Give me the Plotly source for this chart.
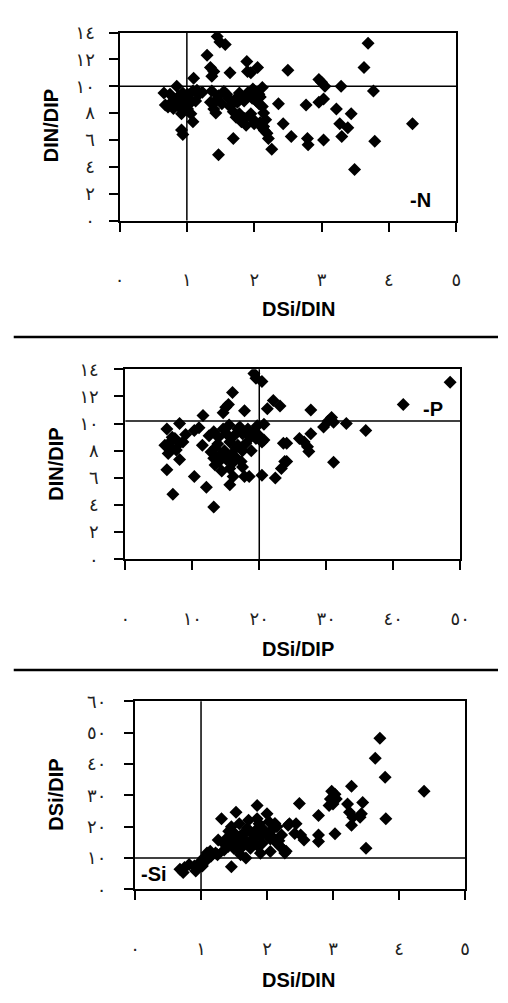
import plotly.graph_objects as go

# ---------------- data ----------------
# Panel 1 (-N): DSi/DIN vs DIN/DIP
n_x = [1.45, 1.49, 1.57, 1.30, 1.35, 1.40, 1.37, 1.64, 1.89, 1.90, 1.95, 2.05, 2.50, 1.10, 0.85, 0.66, 0.68, 0.75, 0.82, 0.94,
       1.01, 1.09, 1.18, 0.89, 0.94, 0.92, 1.09, 0.92, 0.94, 1.04, 1.01, 0.85, 0.99, 0.75, 1.06, 1.13, 1.23,
       1.37, 1.42, 1.40, 1.47, 1.52, 1.59, 1.64, 1.71, 1.78, 1.85, 1.90, 2.00, 2.07, 2.12,
       1.69, 1.73, 1.81, 1.88, 1.95, 2.00,
       2.09, 2.12, 2.14, 2.17, 2.14, 2.19, 2.21, 2.09, 2.07,
       2.36, 2.43, 2.55, 1.69, 2.26, 1.47,
       3.69, 3.63, 2.96, 3.00, 3.05, 3.29, 3.77, 2.77, 2.96, 3.03, 3.22, 3.44, 3.27, 3.39, 3.30, 4.35, 2.79, 2.80, 3.03, 3.79, 3.49,
       0.72, 0.80, 0.97, 1.05, 0.88, 1.15, 1.45, 1.55, 1.62, 1.75, 1.82, 1.97, 2.03, 1.35, 1.43, 1.78, 1.86, 2.00, 2.12, 2.15, 1.98]
n_y = [13.7, 13.3, 13.1, 12.3, 11.4, 11.1, 10.75, 11.0, 11.85, 11.1, 11.0, 11.4, 11.2, 10.6, 10.0, 9.5, 8.6, 8.7, 8.8, 9.5,
       9.4, 9.65, 9.4, 8.7, 8.2, 7.95, 7.35, 6.75, 6.4, 8.7, 8.3, 9.05, 9.05, 9.4, 7.95, 8.9, 9.55,
       9.65, 8.9, 8.3, 9.3, 8.7, 9.4, 8.5, 9.0, 9.5, 8.9, 9.5, 9.65, 9.4, 9.9,
       8.1, 7.7, 7.35, 7.1, 7.95, 7.45,
       9.2, 8.5, 8.0, 7.5, 7.0, 6.5, 6.1, 7.3, 8.7,
       8.7, 7.2, 6.25, 6.1, 5.3, 4.9,
       13.2, 11.4, 10.5, 10.3, 10.0, 10.0, 9.65, 8.6, 8.8, 9.05, 8.3, 7.95, 7.2, 6.9, 6.25, 7.2, 6.1, 5.65, 6.0, 5.9, 3.8,
       8.45, 8.35, 8.9, 9.0, 9.25, 9.7, 9.0, 9.6, 9.1, 8.8, 9.2, 9.1, 8.9, 8.8, 8.0, 7.95, 7.6, 7.2, 6.9, 6.7, 9.8]

# Panel 2 (-P): DSi/DIP vs DIN/DIP
p_x = [19.2, 19.5, 20.4, 16.0, 22.1, 23.1, 21.2, 15.0, 14.6, 15.4, 17.8, 11.6, 6.2, 8.1, 10.3, 11.0,
       5.9, 6.7, 7.4, 8.1, 8.6, 7.6, 6.9, 6.4, 8.1, 6.2, 10.3, 12.1, 7.1, 13.2, 11.5,
       13.2, 13.9, 14.6, 15.1, 15.6, 16.3, 17.1, 17.5, 18.3, 18.7, 19.2, 19.7, 20.7, 20.4, 19.5, 18.0, 16.8,
       13.4, 14.2, 13.2, 13.4, 14.4, 15.1, 15.8, 16.6, 17.3, 15.6, 15.6, 16.1, 17.8, 18.5, 20.4, 22.4,
       23.6, 23.8, 23.3, 20.7,
       48.5, 41.5, 27.7, 30.8, 30.3, 31.1, 29.6, 33.0, 35.9, 26.0, 26.7, 27.7, 27.2, 27.4, 31.1, 24.1, 24.1,
       12.5, 13.8, 14.8, 16.5, 17.5, 15.5, 16.8, 18.8, 14.0, 16.0, 17.5, 12.8, 19.8, 7.0, 9.0]
p_y = [13.7, 13.35, 13.1, 12.3, 11.7, 11.3, 11.1, 11.2, 10.8, 11.4, 10.95, 10.6, 9.6, 10.0, 9.5, 9.7,
       8.4, 8.65, 8.9, 8.55, 8.65, 8.05, 8.2, 7.8, 7.35, 6.6, 6.1, 5.3, 4.8, 3.85, 8.4,
       9.4, 9.0, 9.6, 9.25, 8.65, 9.15, 9.75, 9.25, 9.6, 9.0, 9.5, 9.85, 9.95, 8.65, 8.9, 8.55, 8.4,
       8.2, 7.7, 7.45, 6.95, 6.5, 7.35, 7.7, 7.45, 7.2, 6.7, 5.5, 6.1, 6.1, 6.1, 6.2, 6.0,
       8.55, 7.2, 6.7, 8.8,
       13.05, 11.4, 11.0, 10.45, 10.2, 10.1, 9.75, 10.0, 9.5, 8.9, 8.65, 9.25, 8.3, 7.95, 7.15, 8.55, 7.2,
       9.1, 8.5, 8.0, 8.2, 8.0, 9.9, 9.6, 8.0, 7.2, 7.1, 6.8, 7.9, 9.2, 9.0, 9.2]

# Panel 3 (-Si): DSi/DIN vs DSi/DIP
s_x = [0.68, 0.75, 0.82, 0.90, 0.92, 1.00, 1.04, 1.09, 1.14, 1.22, 1.02, 0.73, 1.07,
       1.46, 1.68, 1.31, 1.53, 1.85, 2.49,
       1.26, 1.34, 1.41, 1.39, 1.49, 1.56, 1.51, 1.46, 1.58, 1.61, 1.68, 1.71, 1.63, 1.75, 1.80, 1.83,
       1.85, 1.88, 1.90, 1.93, 2.00, 2.03, 2.07, 2.10, 2.15, 2.20, 2.25, 2.27, 2.15, 2.22, 2.34,
       1.15, 1.25, 1.60, 1.90, 2.05,
       3.71, 3.64, 3.79, 4.38, 3.28, 2.98, 3.03, 2.96, 3.00, 2.94, 3.05, 3.22, 3.45, 3.25, 3.30, 3.41, 3.43,
       3.28, 2.78, 3.80, 3.03, 2.78, 2.78, 2.51, 2.56, 3.50, 2.44, 2.32, 2.42, 2.29,
       1.45, 1.55, 1.65, 1.70, 1.78, 1.95, 1.98, 2.05, 2.12, 1.50, 1.35, 1.85, 2.18, 1.42, 1.72]
s_y = [6.35, 6.9, 7.9, 7.4, 5.8, 9.0, 10.0, 11.6, 12.1, 11.6, 7.4, 5.3, 9.0,
       7.2, 10.0, 22.5, 24.6, 26.7, 27.4,
       15.7, 14.7, 13.6, 16.3, 14.7, 12.6, 17.8, 19.9, 20.9, 17.3, 18.3, 14.7, 13.6, 13.1, 16.3, 18.8,
       22.5, 20.9, 16.8, 14.7, 24.1, 21.5, 18.8, 16.3, 14.7, 13.6, 12.6, 11.6, 19.9, 17.3, 20.9,
       10.5, 11.0, 11.0, 11.5, 12.0,
       48.2, 41.8, 35.7, 31.3, 32.9, 31.3, 30.3, 28.8, 27.2, 26.7, 28.8, 27.2, 27.7, 24.6, 23.0, 23.0, 24.1,
       20.4, 23.5, 22.5, 17.7, 17.3, 15.2, 17.3, 15.7, 13.1, 20.9, 20.4, 17.8, 12.1,
       16.0, 15.0, 16.0, 19.5, 17.5, 19.0, 17.8, 16.0, 21.0, 13.0, 12.5, 14.0, 15.5, 18.5, 22.0]

# axis ticks (Arabic-Indic digits)
ratio5_vals = [0, 1, 2, 3, 4, 5]
ratio5_text = ["٠", "١", "٢", "٣", "٤", "٥"]
ratio50_vals = [0, 10, 20, 30, 40, 50]
ratio50_text = ["٠", "١٠", "٢٠", "٣٠", "٤٠", "٥٠"]
ratio14_vals = [0, 2, 4, 6, 8, 10, 12, 14]
ratio14_text = ["٠", "٢", "٤", "٦", "٨", "١٠", "١٢", "١٤"]
ratio60_vals = [0, 10, 20, 30, 40, 50, 60]
ratio60_text = ["٠", "١٠", "٢٠", "٣٠", "٤٠", "٥٠", "٦٠"]

# limiting thresholds
N_LIM_X, N_LIM_Y = 1, 10
P_LIM_X, P_LIM_Y = 20, 10.2
SI_LIM_X, SI_LIM_Y = 1, 10

# ---------------- figure ----------------
W, H = 508, 1003
fig = go.Figure()
mk = dict(symbol="diamond", size=10, color="black", line=dict(width=0))
fig.add_trace(go.Scatter(x=n_x, y=n_y, mode="markers", marker=mk, xaxis="x", yaxis="y", showlegend=False))
fig.add_trace(go.Scatter(x=p_x, y=p_y, mode="markers", marker=mk, xaxis="x2", yaxis="y2", showlegend=False))
fig.add_trace(go.Scatter(x=s_x, y=s_y, mode="markers", marker=mk, xaxis="x3", yaxis="y3", showlegend=False))

tickfont = dict(family="DejaVu Sans", size=18, color="#222")


def ax(domain, rng, vals, text, anchor, standoff):
    return dict(domain=domain, range=rng, tickmode="array", tickvals=vals, ticktext=text,
                showline=True, linecolor="black", linewidth=2, mirror=True,
                ticks="outside", ticklen=9, tickwidth=2, tickcolor="black",
                showgrid=False, zeroline=False, anchor=anchor, tickfont=tickfont,
                ticklabelstandoff=standoff, fixedrange=True)


def px(v):
    return v / W


def py(v):
    return 1 - v / H


fig.update_layout(
    width=W, height=H, margin=dict(l=0, r=0, t=0, b=0),
    paper_bgcolor="white", plot_bgcolor="white",
    xaxis=ax([px(118), px(465)], [0, 5], ratio5_vals, ratio5_text, "y", 33),
    yaxis=ax([py(214), py(22)], [0, 14], ratio14_vals, ratio14_text, "x", 10),
    xaxis2=ax([px(124), px(469)], [0, 50], ratio50_vals, ratio50_text, "y2", 33),
    yaxis2=ax([py(560), py(366)], [0, 14], ratio14_vals, ratio14_text, "x2", 12),
    xaxis3=ax([px(134), px(474)], [0, 5], ratio5_vals, ratio5_text, "y3", 33),
    yaxis3=ax([py(897), py(705)], [0, 60], ratio60_vals, ratio60_text, "x3", 14),
)

# threshold lines
lw = 1.5
for xr, yr, xv, yv in [("x", "y", N_LIM_X, N_LIM_Y), ("x2", "y2", P_LIM_X, P_LIM_Y), ("x3", "y3", SI_LIM_X, SI_LIM_Y)]:
    fig.add_shape(type="line", xref=xr, yref=yr + " domain", x0=xv, x1=xv, y0=0, y1=1,
                  line=dict(color="black", width=lw))
    fig.add_shape(type="line", xref=xr + " domain", yref=yr, x0=0, x1=1, y0=yv, y1=yv,
                  line=dict(color="black", width=lw))

# separators between panels
for ysep in [333, 673]:
    fig.add_shape(type="line", xref="paper", yref="paper", x0=px(9), x1=1, y0=py(ysep), y1=py(ysep),
                  line=dict(color="black", width=2.5))

tfont = dict(family="Liberation Sans", size=20, color="black")
titles = [
    ("DSi/DIN", px(302), py(304), 0),
    ("DIN/DIP", px(47), py(117), -90),
    ("DSi/DIP", px(302), py(652), 0),
    ("DIN/DIP", px(53), py(463), -90),
    ("DSi/DIN", px(302), py(990), 0),
    ("DSi/DIP", px(53), py(800), -90),
]
for t, x, y, ang in titles:
    fig.add_annotation(text="<b>" + t + "</b>", x=x, y=y, xref="paper", yref="paper",
                       showarrow=False, textangle=ang, font=tfont, xanchor="center", yanchor="middle")

lfont = dict(family="Liberation Sans", size=20, color="black")
fig.add_annotation(text="<b>-N</b>", x=4.47, y=1.5, xref="x", yref="y", showarrow=False, font=lfont)
fig.add_annotation(text="<b>-P</b>", x=46.0, y=11.06, xref="x2", yref="y2", showarrow=False, font=lfont)
fig.add_annotation(text="<b>-Si</b>", x=0.29, y=4.8, xref="x3", yref="y3", showarrow=False, font=lfont)

fig.write_html("out.html")
